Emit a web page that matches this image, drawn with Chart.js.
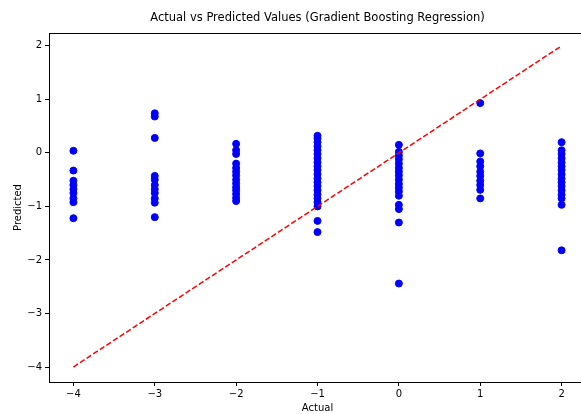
<!DOCTYPE html>
<html>
<head>
<meta charset="utf-8">
<script src="https://cdn.jsdelivr.net/npm/chart.js"></script>
<style>
  html, body { margin: 0; padding: 0; background: #fff; overflow: hidden; }
  #wrap { position: relative; width: 600px; height: 414px; }
</style>
</head>
<body>
<div id="wrap"><canvas id="chart"></canvas></div>
<script>
// actual class values and the model's predictions for each of them
const actualValues = [-4, -3, -2, -1, 0, 1, 2];
const predAtMinus4 = [0.04, -0.33, -0.52, -0.6, -0.68, -0.75, -0.85, -0.92, -1.22];
const predAtMinus3 = [0.74, 0.68, 0.28, -0.43, -0.5, -0.6, -0.68, -0.75, -0.85, -0.93, -1.2];
const predAtMinus2 = [0.17, 0.05, -0.02, -0.2, -0.28, -0.35, -0.42, -0.5, -0.57, -0.64, -0.7, -0.77, -0.84, -0.9];
const predAtMinus1 = [0.32, 0.27, 0.2, 0.12, 0.05, -0.02, -0.1, -0.18, -0.25, -0.32, -0.4, -0.48, -0.55, -0.62, -0.7, -0.78, -0.85, -0.92, -1.0, -1.27, -1.48];
const predAtZero = [0.15, 0.02, -0.05, -0.12, -0.2, -0.28, -0.35, -0.42, -0.5, -0.58, -0.65, -0.72, -0.8, -0.97, -1.05, -1.3, -2.44];
const predAtOne = [0.93, -0.01, -0.16, -0.25, -0.35, -0.43, -0.52, -0.6, -0.69, -0.85];
const predAtTwo = [0.2, 0.05, -0.02, -0.1, -0.18, -0.25, -0.32, -0.4, -0.48, -0.55, -0.62, -0.7, -0.78, -0.85, -0.97, -1.82];
const predictions = [predAtMinus4, predAtMinus3, predAtMinus2, predAtMinus1, predAtZero, predAtOne, predAtTwo];

const xTicks = [-4, -3, -2, -1, 0, 1, 2];
const yTicks = [-4, -3, -2, -1, 0, 1, 2];
const idealLine = [{ x: -4, y: -4 }, { x: 2, y: 2 }];

const points = [];
actualValues.forEach((a, i) => {
  predictions[i].forEach(p => points.push({ x: a, y: p }));
});

const FONT = 'DejaVu Sans';
const fmt = v => (v < 0 ? '\u2212' + Math.abs(v) : String(v));

// frame round the plot area and the title over its centre
const framePlugin = {
  id: 'frame',
  afterDraw(chart) {
    const { ctx, chartArea: a } = chart;
    ctx.save();
    ctx.strokeStyle = '#000';
    ctx.lineWidth = 1;
    ctx.strokeRect(a.left + 0.5, a.top + 0.5, a.right - a.left, a.bottom - a.top);
    ctx.fillStyle = '#000';
    ctx.font = '11.5px "' + FONT + '"';
    ctx.textAlign = 'center';
    ctx.textBaseline = 'middle';
    ctx.fillText('Actual vs Predicted Values (Gradient Boosting Regression)', (a.left + a.right) / 2, 18);
    ctx.restore();
  }
};

new Chart(document.getElementById('chart'), {
  type: 'scatter',
  data: {
    datasets: [
      {
        label: 'Predictions',
        data: points,
        backgroundColor: '#0000ff',
        borderColor: '#0000ff',
        pointRadius: 3.5,
        pointHoverRadius: 3.5,
        order: 2
      },
      {
        type: 'line',
        label: 'Ideal',
        data: idealLine,
        borderColor: '#ff0000',
        borderWidth: 1.5,
        borderDash: [5.5, 2.4],
        pointRadius: 0,
        fill: false,
        order: 1
      }
    ]
  },
  options: {
    responsive: true,
    maintainAspectRatio: false,
    animation: false,
    layout: { padding: { top: 33, right: 14, left: 0, bottom: 0 } },
    plugins: {
      legend: { display: false },
      title: { display: false },
      tooltip: { enabled: false }
    },
    scales: {
      x: {
        type: 'linear',
        min: -4.3,
        max: 2.3,
        afterBuildTicks: s => { s.ticks = xTicks.map(v => ({ value: v })); },
        afterFit: s => { s.height = 32; },
        grid: { drawOnChartArea: false, drawTicks: true, tickLength: 4, color: '#000' },
        border: { display: true, color: '#000' },
        ticks: { color: '#000', font: { family: FONT, size: 10 }, padding: 2, callback: v => fmt(v) },
        title: { display: true, text: 'Actual', color: '#000', font: { family: FONT, size: 10 }, padding: { top: 0, bottom: 0 } }
      },
      y: {
        type: 'linear',
        min: -4.28,
        max: 2.24,
        afterBuildTicks: s => { s.ticks = yTicks.map(v => ({ value: v })); },
        afterFit: s => { s.width = 49; },
        grid: { drawOnChartArea: false, drawTicks: true, tickLength: 4, color: '#000' },
        border: { display: true, color: '#000' },
        ticks: { color: '#000', font: { family: FONT, size: 10 }, padding: 3, callback: v => fmt(v) },
        title: { display: true, text: 'Predicted', color: '#000', font: { family: FONT, size: 10 }, padding: { top: 12, bottom: 0 } }
      }
    }
  },
  plugins: [framePlugin]
});
</script>
</body>
</html>
